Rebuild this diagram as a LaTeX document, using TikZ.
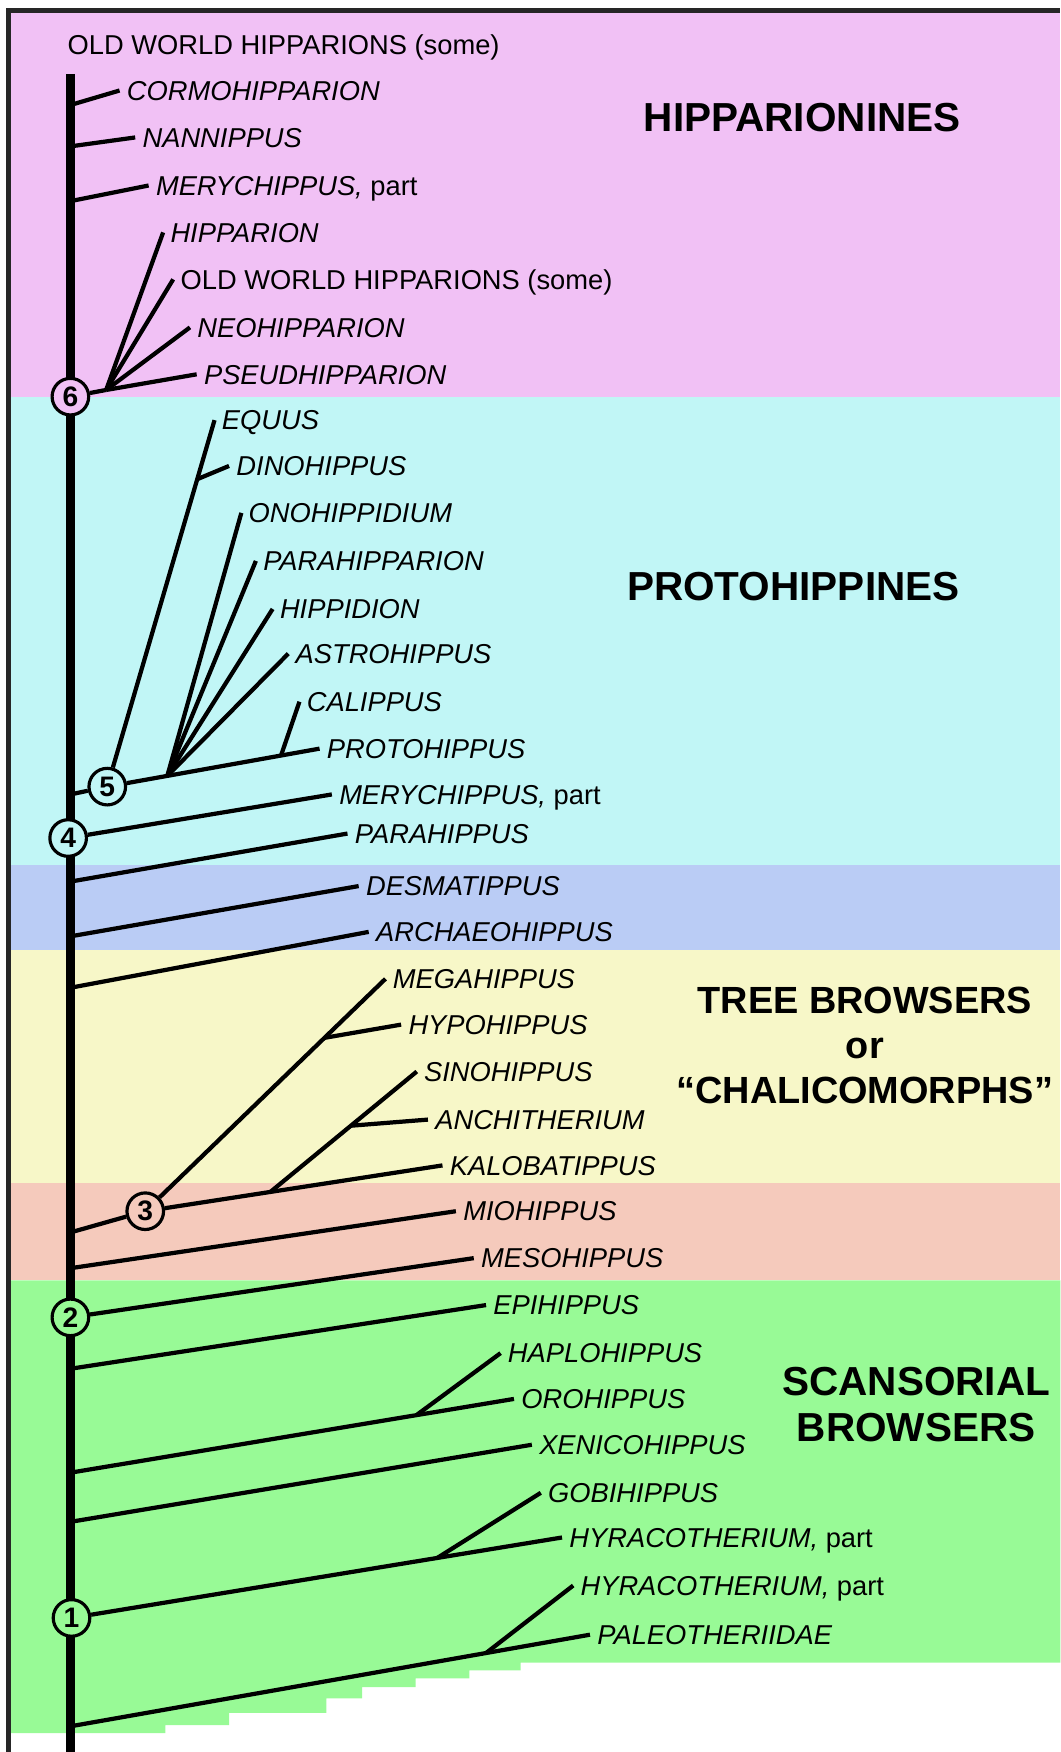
\documentclass[tikz,border=0pt]{standalone}
\usepackage{fontspec}
\setmainfont{Liberation Sans}

\definecolor{bandpink}{RGB}{241,193,245}
\definecolor{bandcyan}{RGB}{193,246,246}
\definecolor{bandblue}{RGB}{186,204,245}
\definecolor{bandyellow}{RGB}{247,247,200}
\definecolor{bandsalmon}{RGB}{245,202,188}
\definecolor{bandgreen}{RGB}{152,250,150}

\begin{document}
\begin{tikzpicture}[x=0.0223cm, y=-0.0223cm,
	lbl/.style={anchor=west, inner xsep=4pt, inner ysep=0pt, text height=11pt, text depth=0pt,
		font=\fontsize{15.5}{18}\selectfont\itshape},
	grp/.style={align=center, font=\fontsize{23}{26.5}\selectfont\bfseries},
	branch/.style={line width=2.4pt},
	spine/.style={line width=5pt},
	num/.style={circle, draw, line width=1.8pt, minimum size=0.73cm, inner sep=0pt,
		font=\fontsize{16}{16}\selectfont\bfseries}]

	\useasboundingbox (0,0) rectangle (949,1568);

	% bands
	\fill[bandpink] (10,11) rectangle (949,355);
	\fill[bandcyan] (10,355) rectangle (949,774);
	\fill[bandblue] (10,774) rectangle (949,850);
	\fill[bandyellow] (10,850) rectangle (949,1059);
	\fill[bandsalmon] (10,1059) rectangle (949,1146);
	\fill[bandgreen] (10,1146) -- (949,1146) -- (949,1488) -- (466,1488) -- (466,1495)
		-- (420,1495) -- (420,1502) -- (372,1502) -- (372,1510) -- (324,1510) -- (324,1520)
		-- (292,1520) -- (292,1533) -- (205,1533) -- (205,1544) -- (148,1544) -- (148,1551)
		-- (10,1551) -- cycle;
	\draw[line width=2.9pt, black!85] (7.6,1568) -- (7.6,9.4) -- (949,9.4);

	% spine and nodes on it
	\coordinate (top) at (63,66);
	\coordinate (root) at (63,1568);
	\draw[spine] (top) -- (root);
	\foreach \n/\y in {cormo/94, nanni/131, mery/180, five/711, parahip/789, desma/838,
		archaeo/884, three/1103, mio/1135, epi/1225, oro/1318, xeni/1362, paleo/1545}
		\coordinate (s-\n) at (63,\y);

	\node[num, fill=bandpink] (n6) at (63,355) {6};
	\node[num, fill=bandcyan] (n5) at (96,704) {5};
	\node[num, fill=bandcyan] (n4) at (61,750) {4};
	\node[num, fill=bandsalmon] (n3) at (130,1084) {3};
	\node[num, fill=bandgreen] (n2) at (63,1179) {2};
	\node[num, fill=bandgreen] (n1) at (64,1448) {1};

	% group names
	\node[grp] (hipparionines) at (718,105) {HIPPARIONINES};
	\node[grp] (protohippines) at (710,525) {PROTOHIPPINES};
	\node[grp, font=\fontsize{21.5}{25.5}\selectfont\bfseries] (chalico) at (774,936)
		{TREE BROWSERS\\or\\“CHALICOMORPHS”};
	\node[grp] (scansorial) at (820,1257) {SCANSORIAL\\BROWSERS};

	% taxa
	\node[lbl] (oldtop) at (54,40) {\upshape OLD WORLD HIPPARIONS (some)};
	\node[lbl] (cormo) at (107,81) {CORMOHIPPARION};
	\node[lbl] (nanni) at (121,123) {NANNIPPUS};
	\node[lbl] (mery1) at (133,166) {MERYCHIPPUS, {\upshape part}};
	\node[lbl] (hippa) at (146,208) {HIPPARION};
	\node[lbl] (oldw) at (155,250) {\upshape OLD WORLD HIPPARIONS (some)};
	\node[lbl] (neohip) at (170,293) {NEOHIPPARION};
	\node[lbl] (pseud) at (176,335) {PSEUDHIPPARION};
	\node[lbl] (equus) at (192,376) {EQUUS};
	\node[lbl] (dino) at (205,417) {DINOHIPPUS};
	\node[lbl] (onohip) at (216,459) {ONOHIPPIDIUM};
	\node[lbl] (parahipparion) at (229,502) {PARAHIPPARION};
	\node[lbl] (hippidion) at (244,545) {HIPPIDION};
	\node[lbl] (astro) at (258,585) {ASTROHIPPUS};
	\node[lbl] (calippus) at (268,628) {CALIPPUS};
	\node[lbl] (proto) at (286,670) {PROTOHIPPUS};
	\node[lbl] (mery2) at (297,711) {MERYCHIPPUS, {\upshape part}};
	\node[lbl] (parahippus) at (311,746) {PARAHIPPUS};
	\node[lbl] (desma) at (321,793) {DESMATIPPUS};
	\node[lbl] (archaeo) at (330,834) {ARCHAEOHIPPUS};
	\node[lbl] (mega) at (345,876) {MEGAHIPPUS};
	\node[lbl] (hypo) at (359,917) {HYPOHIPPUS};
	\node[lbl] (sino) at (373,959) {SINOHIPPUS};
	\node[lbl] (anchi) at (383,1002) {ANCHITHERIUM};
	\node[lbl] (kalo) at (396,1043) {KALOBATIPPUS};
	\node[lbl] (mio) at (408,1084) {MIOHIPPUS};
	\node[lbl] (meso) at (424,1126) {MESOHIPPUS};
	\node[lbl] (epi) at (435,1168) {EPIHIPPUS};
	\node[lbl] (haplo) at (448,1211) {HAPLOHIPPUS};
	\node[lbl] (oro) at (460,1252) {OROHIPPUS};
	\node[lbl] (xeni) at (476,1293) {XENICOHIPPUS};
	\node[lbl] (gobi) at (484,1336) {GOBIHIPPUS};
	\node[lbl] (hyra1) at (503,1376) {HYRACOTHERIUM, {\upshape part}};
	\node[lbl] (hyra2) at (513,1419) {HYRACOTHERIUM, {\upshape part}};
	\node[lbl] (paleo) at (528,1463) {PALEOTHERIIDAE};

	% hipparionines
	\draw[branch] (s-cormo) -- (cormo.west);
	\draw[branch] (s-nanni) -- (nanni.west);
	\draw[branch] (s-mery) -- (mery1.west);
	\coordinate (f6) at (95,349);
	\draw[branch] (n6) -- (f6);
	\foreach \t in {hippa, oldw, neohip, pseud}
		\draw[branch] (f6) -- (\t.west);

	% protohippines
	\draw[branch] (s-five) -- (n5);
	\draw[branch] (n5) -- (equus.west) coordinate[pos=.83] (f-dino);
	\draw[branch] (f-dino) -- (dino.west);
	\draw[branch] (n5) -- (proto.west) coordinate[pos=.21] (f5) coordinate[pos=.8] (f-cali);
	\foreach \t in {onohip, parahipparion, hippidion, astro}
		\draw[branch] (f5) -- (\t.west);
	\draw[branch] (f-cali) -- (calippus.west);
	\draw[branch] (n4) -- (mery2.west);
	\draw[branch] (s-parahip) -- (parahippus.west);
	\draw[branch] (s-desma) -- (desma.west);
	\draw[branch] (s-archaeo) -- (archaeo.west);

	% tree browsers
	\draw[branch] (s-three) -- (n3);
	\draw[branch] (n3) -- (mega.west) coordinate[pos=.73] (f-hypo);
	\draw[branch] (f-hypo) -- (hypo.west);
	\draw[branch] (n3) -- (kalo.west) coordinate[pos=.38] (f-sino);
	\draw[branch] (f-sino) -- (sino.west) coordinate[pos=.55] (f-anchi);
	\draw[branch] (f-anchi) -- (anchi.west);
	\draw[branch] (s-mio) -- (mio.west);
	\draw[branch] (n2) -- (meso.west);

	% scansorial browsers
	\draw[branch] (s-epi) -- (epi.west);
	\draw[branch] (s-oro) -- (oro.west) coordinate[pos=.78] (f-haplo);
	\draw[branch] (f-haplo) -- (haplo.west);
	\draw[branch] (s-xeni) -- (xeni.west);
	\draw[branch] (n1) -- (hyra1.west) coordinate[pos=.735] (f-gobi);
	\draw[branch] (f-gobi) -- (gobi.west);
	\draw[branch] (s-paleo) -- (paleo.west) coordinate[pos=.8] (f-hyra);
	\draw[branch] (f-hyra) -- (hyra2.west);

\end{tikzpicture}
\end{document}
